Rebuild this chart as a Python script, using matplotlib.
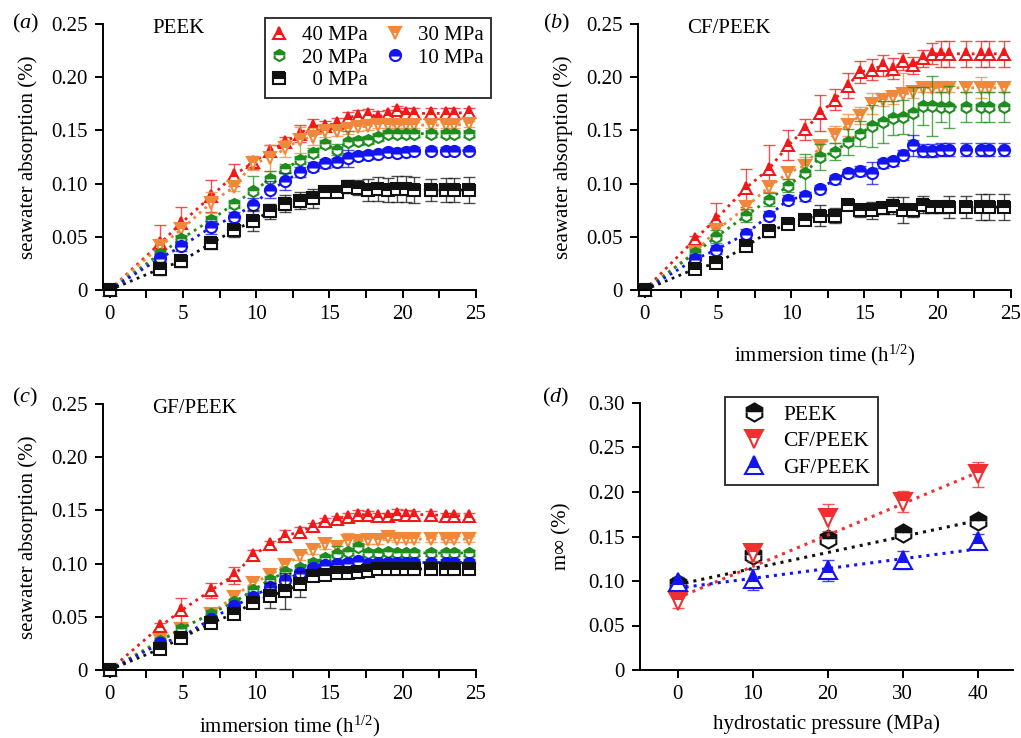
import numpy as np
import matplotlib
matplotlib.use("Agg")
from matplotlib import pyplot as plt
from matplotlib.lines import Line2D
from matplotlib.ticker import MultipleLocator, FuncFormatter

plt.rcParams['font.family'] = ['Liberation Serif', 'DejaVu Serif']
plt.rcParams['mathtext.fontset'] = 'custom'
plt.rcParams['mathtext.rm'] = 'Liberation Serif'
plt.rcParams['mathtext.it'] = 'Liberation Serif:italic'
plt.rcParams['font.size'] = 15
plt.rcParams['xtick.direction'] = plt.rcParams['ytick.direction'] = "out"

# immersion time, sqrt(h)
t_sqrt = [0, 3.46, 4.90, 6.93, 8.49, 9.80, 10.95, 12.00, 12.96, 13.86, 14.70, 15.49,
          16.25, 16.97, 17.66, 18.33, 18.97, 19.60, 20.20, 20.78, 21.91, 22.98, 23.49, 24.49]

pressures_lbl = ["40 MPa", "30 MPa", "20 MPa", "10 MPa", "  0 MPa"]

# (a) PEEK
peek_40 = [0, 0.044, 0.063, 0.088, 0.108, 0.120, 0.131, 0.139, 0.147, 0.154, 0.154, 0.157,
           0.162, 0.164, 0.165, 0.163, 0.165, 0.169, 0.166, 0.166, 0.166, 0.166, 0.166, 0.167]
peek_30 = [0, 0.041, 0.057, 0.082, 0.097, 0.119, 0.124, 0.133, 0.141, 0.144, 0.149, 0.149,
           0.151, 0.153, 0.154, 0.155, 0.155, 0.155, 0.155, 0.155, 0.155, 0.155, 0.155, 0.156]
peek_20 = [0, 0.034, 0.048, 0.066, 0.081, 0.093, 0.104, 0.114, 0.122, 0.129, 0.137, 0.132,
           0.139, 0.140, 0.141, 0.144, 0.147, 0.147, 0.147, 0.147, 0.147, 0.147, 0.147, 0.147]
peek_10 = [0, 0.030, 0.041, 0.059, 0.069, 0.080, 0.094, 0.102, 0.111, 0.116, 0.119, 0.120,
           0.124, 0.126, 0.127, 0.128, 0.130, 0.129, 0.130, 0.131, 0.131, 0.131, 0.131, 0.131]
peek_0 = [0, 0.020, 0.027, 0.044, 0.056, 0.065, 0.074, 0.081, 0.084, 0.086, 0.092, 0.092,
          0.097, 0.096, 0.094, 0.095, 0.094, 0.095, 0.095, 0.094, 0.094, 0.094, 0.094, 0.094]
peek_40_err = [0, 0.017, 0.015, 0.015, 0.010, 0.006, 0.005, 0.005, 0.008, 0.007, 0.005, 0.005,
               0.005, 0.005, 0.005, 0.005, 0.004, 0.004, 0.005, 0.005, 0.005, 0.005, 0.005, 0.004]
peek_30_err = [0, 0.006, 0.006, 0.010, 0.004, 0.006, 0.012, 0.008, 0.012, 0.008, 0.005, 0.004,
               0.004, 0.004, 0.004, 0.003, 0.003, 0.003, 0.003, 0.003, 0.003, 0.003, 0.003, 0.003]
peek_20_err = [0, 0.004, 0.004, 0.004, 0.004, 0.014, 0.008, 0.004, 0.004, 0.004, 0.004, 0.005,
               0.010, 0.004, 0.004, 0.004, 0.003, 0.003, 0.003, 0.003, 0.003, 0.003, 0.003, 0.003]
peek_10_err = [0, 0.004, 0.004, 0.006, 0.004, 0.006, 0.008, 0.008, 0.005, 0.004, 0.004, 0.004,
               0.008, 0.004, 0.004, 0.003, 0.003, 0.003, 0.003, 0.003, 0.003, 0.003, 0.003, 0.003]
peek_0_err = [0, 0.006, 0.005, 0.005, 0.006, 0.010, 0.007, 0.008, 0.008, 0.009, 0.005, 0.005,
              0.006, 0.007, 0.010, 0.011, 0.011, 0.012, 0.012, 0.012, 0.010, 0.011, 0.011, 0.012]

# (b) CF/PEEK
cf_40 = [0, 0.048, 0.067, 0.096, 0.114, 0.136, 0.151, 0.166, 0.179, 0.192, 0.205, 0.207,
         0.211, 0.208, 0.215, 0.211, 0.218, 0.222, 0.222, 0.222, 0.222, 0.222, 0.222, 0.222]
cf_30 = [0, 0.036, 0.056, 0.078, 0.097, 0.110, 0.117, 0.135, 0.146, 0.155, 0.164, 0.175,
         0.179, 0.181, 0.184, 0.186, 0.190, 0.190, 0.190, 0.190, 0.190, 0.190, 0.190, 0.190]
cf_20 = [0, 0.035, 0.050, 0.070, 0.085, 0.098, 0.110, 0.125, 0.130, 0.139, 0.147, 0.154,
         0.158, 0.162, 0.163, 0.166, 0.173, 0.173, 0.172, 0.172, 0.172, 0.172, 0.172, 0.172]
cf_10 = [0, 0.029, 0.038, 0.053, 0.070, 0.085, 0.088, 0.095, 0.104, 0.110, 0.112, 0.110,
         0.119, 0.121, 0.127, 0.136, 0.131, 0.131, 0.132, 0.132, 0.132, 0.132, 0.132, 0.132]
cf_0 = [0, 0.020, 0.025, 0.041, 0.055, 0.062, 0.066, 0.070, 0.070, 0.080, 0.075, 0.075,
        0.077, 0.079, 0.075, 0.075, 0.080, 0.078, 0.078, 0.078, 0.078, 0.078, 0.078, 0.078]
cf_40_err = [0, 0.003, 0.015, 0.018, 0.022, 0.014, 0.010, 0.017, 0.010, 0.012, 0.010, 0.010,
             0.010, 0.010, 0.008, 0.008, 0.008, 0.010, 0.012, 0.012, 0.012, 0.012, 0.012, 0.012]
cf_30_err = [0, 0.004, 0.005, 0.005, 0.005, 0.006, 0.008, 0.006, 0.008, 0.010, 0.008, 0.010,
             0.006, 0.006, 0.020, 0.006, 0.004, 0.004, 0.004, 0.004, 0.004, 0.010, 0.004, 0.004]
cf_20_err = [0, 0.004, 0.006, 0.006, 0.006, 0.006, 0.018, 0.012, 0.008, 0.012, 0.012, 0.020,
             0.020, 0.016, 0.016, 0.025, 0.018, 0.028, 0.014, 0.020, 0.014, 0.014, 0.014, 0.014]
cf_10_err = [0, 0.004, 0.004, 0.004, 0.004, 0.004, 0.004, 0.004, 0.004, 0.004, 0.005, 0.010,
             0.004, 0.004, 0.005, 0.010, 0.006, 0.006, 0.006, 0.006, 0.006, 0.006, 0.006, 0.006]
cf_0_err = [0, 0.003, 0.004, 0.003, 0.005, 0.003, 0.004, 0.010, 0.007, 0.003, 0.006, 0.008,
            0.006, 0.008, 0.012, 0.006, 0.008, 0.006, 0.006, 0.010, 0.010, 0.012, 0.012, 0.012]

# (c) GF/PEEK
gf_40 = [0, 0.041, 0.056, 0.075, 0.089, 0.108, 0.118, 0.126, 0.130, 0.135, 0.140, 0.142,
         0.144, 0.146, 0.146, 0.145, 0.145, 0.147, 0.146, 0.146, 0.146, 0.145, 0.145, 0.145]
gf_30 = [0, 0.028, 0.039, 0.053, 0.069, 0.082, 0.089, 0.099, 0.107, 0.113, 0.118, 0.116,
         0.121, 0.121, 0.122, 0.122, 0.125, 0.123, 0.123, 0.123, 0.123, 0.123, 0.123, 0.123]
gf_20 = [0, 0.027, 0.039, 0.053, 0.064, 0.075, 0.085, 0.092, 0.096, 0.101, 0.105, 0.109,
         0.111, 0.116, 0.110, 0.110, 0.111, 0.110, 0.110, 0.110, 0.110, 0.110, 0.110, 0.110]
gf_10 = [0, 0.025, 0.031, 0.048, 0.060, 0.069, 0.078, 0.085, 0.091, 0.096, 0.099, 0.100,
         0.101, 0.102, 0.100, 0.101, 0.101, 0.101, 0.101, 0.101, 0.101, 0.101, 0.101, 0.101]
gf_0 = [0, 0.020, 0.030, 0.044, 0.053, 0.063, 0.070, 0.074, 0.081, 0.088, 0.089, 0.091,
        0.091, 0.092, 0.093, 0.095, 0.095, 0.095, 0.095, 0.095, 0.095, 0.095, 0.095, 0.095]
gf_40_err = [0, 0.003, 0.012, 0.007, 0.008, 0.005, 0.003, 0.006, 0.004, 0.003, 0.003, 0.003,
             0.004, 0.004, 0.003, 0.003, 0.003, 0.004, 0.004, 0.003, 0.003, 0.003, 0.003, 0.003]
gf_30_err = [0, 0.003, 0.006, 0.004, 0.004, 0.003, 0.004, 0.004, 0.004, 0.004, 0.004, 0.004,
             0.008, 0.004, 0.004, 0.004, 0.003, 0.003, 0.003, 0.003, 0.003, 0.003, 0.003, 0.003]
gf_20_err = [0, 0.003, 0.003, 0.003, 0.003, 0.003, 0.003, 0.003, 0.003, 0.003, 0.003, 0.008,
             0.003, 0.003, 0.003, 0.003, 0.003, 0.003, 0.003, 0.003, 0.003, 0.003, 0.003, 0.003]
gf_10_err = [0, 0.003, 0.003, 0.003, 0.003, 0.003, 0.003, 0.003, 0.003, 0.003, 0.003, 0.003,
             0.003, 0.003, 0.003, 0.003, 0.003, 0.003, 0.003, 0.003, 0.003, 0.003, 0.003, 0.003]
gf_0_err = [0, 0.003, 0.003, 0.003, 0.003, 0.003, 0.012, 0.017, 0.012, 0.003, 0.003, 0.003,
            0.003, 0.003, 0.003, 0.003, 0.003, 0.003, 0.003, 0.003, 0.003, 0.003, 0.003, 0.003]

# (d) saturation uptake vs pressure
pressure = [0, 10, 20, 30, 40]
minf_peek = [0.097, 0.129, 0.147, 0.154, 0.167]
minf_cf = [0.078, 0.131, 0.171, 0.189, 0.220]
minf_gf = [0.099, 0.102, 0.112, 0.124, 0.145]
minf_peek_err = [0.006, 0.008, 0.006, 0.004, 0.005]
minf_cf_err = [0.008, 0.008, 0.015, 0.012, 0.014]
minf_gf_err = [0.006, 0.012, 0.012, 0.010, 0.008]
# linear trend lines: value at 0 MPa and at 40 MPa
fit_peek = [0.096, 0.168]
fit_cf = [0.081, 0.222]
fit_gf = [0.092, 0.136]

colors = ["#f01818", "#f0883a", "#1e8c1e", "#1414f0", "#111111"]
markers = ["^", "v", "h", "o", "s"]

W, H = 1021, 738
fig = plt.figure(figsize=(W / 100, H / 100), dpi=100)


def px_axes(left, right, top, bottom):
    return fig.add_axes([left / W, 1 - bottom / H, (right - left) / W, (bottom - top) / H])


def style_axes(ax, xlabel=None):
    for s in ["top", "right"]:
        ax.spines[s].set_visible(False)
    for s in ["left", "bottom"]:
        ax.spines[s].set_linewidth(1.4)
    ax.tick_params(which="both", length=6, width=1.4, pad=5, labelsize=15)
    ax.yaxis.set_major_formatter(FuncFormatter(lambda v, p: "0" if abs(v) < 1e-9 else "%.2f" % v))
    ax.yaxis.set_label_coords(-0.175, 0.5)
    if xlabel:
        ax.set_xlabel(xlabel, fontsize=15)


def uptake_panel(ax, series, errs, title, xlabel=None):
    for y, e, c, m in zip(series, errs, colors, markers):
        ax.errorbar(t_sqrt, y, yerr=e, fmt="none", ecolor=c, elinewidth=1, capsize=4,
                    capthick=1, alpha=0.75, clip_on=False)
        ax.plot(t_sqrt, y, ls=":", lw=2, color=c, clip_on=False)
        ax.plot(t_sqrt, y, ls="none", marker=m, ms=8, mec=c, mfc=c, mew=1.5,
                fillstyle="top", markerfacecoloralt="white", clip_on=False)
    ax.set_xlim(-0.45, 25)
    ax.set_ylim(0, 0.25)
    ax.set_xticks([0, 5, 10, 15, 20, 25])
    ax.xaxis.set_minor_locator(MultipleLocator(2.5))
    ax.set_yticks([0, 0.05, 0.10, 0.15, 0.20, 0.25])
    ax.set_ylabel("seawater absorption (%)", fontsize=15)
    ax.text(2.9, 0.246, title, fontsize=15, va="center", ha="left")
    style_axes(ax, xlabel)


ax_a = px_axes(103, 476, 24, 290)
uptake_panel(ax_a, [peek_40, peek_30, peek_20, peek_10, peek_0],
             [peek_40_err, peek_30_err, peek_20_err, peek_10_err, peek_0_err], "PEEK")

ax_b = px_axes(638, 1011, 24, 290)
uptake_panel(ax_b, [cf_40, cf_30, cf_20, cf_10, cf_0],
             [cf_40_err, cf_30_err, cf_20_err, cf_10_err, cf_0_err], "CF/PEEK",
             "immersion time (h$^{1/2}$)")
ax_b.xaxis.set_label_coords(0.5, -0.2)

ax_c = px_axes(103, 476, 404, 670)
uptake_panel(ax_c, [gf_40, gf_30, gf_20, gf_10, gf_0],
             [gf_40_err, gf_30_err, gf_20_err, gf_10_err, gf_0_err], "GF/PEEK",
             "immersion time (h$^{1/2}$)")
ax_c.xaxis.set_label_coords(0.5, -0.165)

# legend for (a)
handles = [Line2D([], [], ls="none", marker=m, ms=8, mec=c, mfc=c, mew=1.5,
                  fillstyle="top", markerfacecoloralt="white") for c, m in zip(colors, markers)]
order = [0, 2, 4, 1, 3]
leg = ax_a.legend([handles[i] for i in order], [pressures_lbl[i] for i in order], ncol=2,
                  loc="upper left", bbox_to_anchor=(265 / W, 1 - 18 / H), bbox_transform=fig.transFigure,
                  fancybox=False, edgecolor="black", fontsize=15, handlelength=0.65,
                  handletextpad=0.8, columnspacing=0.95, borderpad=0.35, labelspacing=0.15,
                  borderaxespad=0)
leg.get_frame().set_linewidth(1.4)

# (d)
ax_d = px_axes(640, 1013, 403, 670)
d_series = [(minf_peek, minf_peek_err, fit_peek, "#111111", "h", "PEEK"),
            (minf_cf, minf_cf_err, fit_cf, "#f03030", "v", "CF/PEEK"),
            (minf_gf, minf_gf_err, fit_gf, "#1414f0", "^", "GF/PEEK")]
d_handles = []
for y, e, fit, c, m, lbl in d_series:
    ax_d.errorbar(pressure, y, yerr=e, fmt="none", ecolor=c, elinewidth=1, capsize=4,
                  capthick=1, alpha=0.8)
    ax_d.plot([pressure[0], pressure[-1]], fit, ls=":", lw=2.2, color=c)
    h, = ax_d.plot(pressure, y, ls="none", marker=m, ms=13, mec=c, mfc=c, mew=1.5,
                   fillstyle="top", markerfacecoloralt="white", label=lbl)
    d_handles.append(h)
ax_d.set_xlim(-5, 44.7)
ax_d.set_ylim(0, 0.30)
ax_d.set_xticks([0, 10, 20, 30, 40])
ax_d.set_yticks([0, 0.05, 0.10, 0.15, 0.20, 0.25, 0.30])
ax_d.set_ylabel("m\u221e (%)", fontsize=15)
style_axes(ax_d, "hydrostatic pressure (MPa)")
ax_d.yaxis.set_label_coords(-0.185, 0.5)
ax_d.xaxis.set_label_coords(0.5, -0.165)
leg_d = ax_d.legend(handles=d_handles, loc="upper left", bbox_to_anchor=(725 / W, 1 - 397 / H),
                    bbox_transform=fig.transFigure, fancybox=False, edgecolor="black",
                    fontsize=15.5, handlelength=2.0, handletextpad=0.35, borderpad=0.35,
                    labelspacing=0.3, borderaxespad=0)
leg_d.get_frame().set_linewidth(1.4)

# panel letters
for lbl, x, y in [("a", 12, 23), ("b", 543, 23), ("c", 12, 397), ("d", 542, 397)]:
    fig.text(x / W, 1 - y / H, "($%s$)" % lbl, fontsize=16, va="center", ha="left")

fig.savefig("out.png", dpi=100)
